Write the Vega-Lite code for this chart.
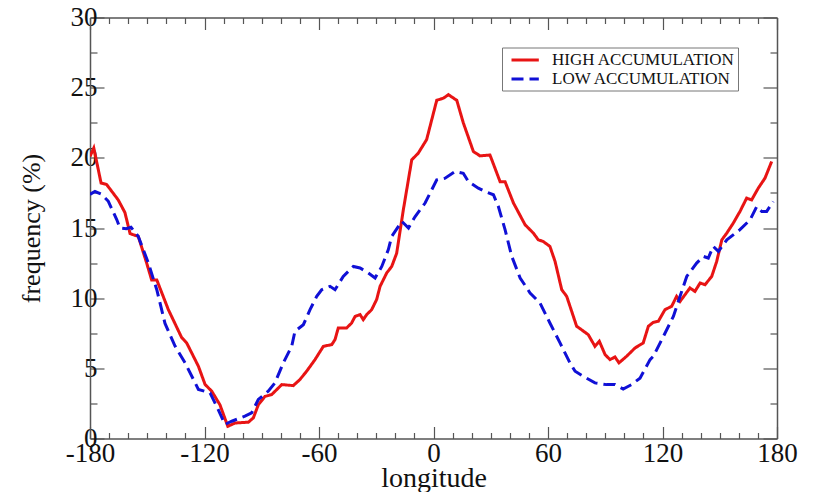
{
  "$schema": "https://vega.github.io/schema/vega-lite/v6.json",
  "width": 687,
  "height": 421,
  "autosize": {"type": "none"},
  "padding": {"left": 90, "top": 17.5, "right": 39, "bottom": 53.5},
  "background": "white",
  "datasets": {
    "curves": [
      {"series": "HIGH ACCUMULATION", "longitude": -180.0, "frequency": 20.1},
      {"series": "HIGH ACCUMULATION", "longitude": -178.0, "frequency": 20.7},
      {"series": "HIGH ACCUMULATION", "longitude": -174.2, "frequency": 18.2},
      {"series": "HIGH ACCUMULATION", "longitude": -171.3, "frequency": 18.1},
      {"series": "HIGH ACCUMULATION", "longitude": -165.2, "frequency": 17.0},
      {"series": "HIGH ACCUMULATION", "longitude": -161.7, "frequency": 16.1},
      {"series": "HIGH ACCUMULATION", "longitude": -159.0, "frequency": 14.6},
      {"series": "HIGH ACCUMULATION", "longitude": -154.7, "frequency": 14.4},
      {"series": "HIGH ACCUMULATION", "longitude": -150.3, "frequency": 12.5},
      {"series": "HIGH ACCUMULATION", "longitude": -147.7, "frequency": 11.3},
      {"series": "HIGH ACCUMULATION", "longitude": -145.0, "frequency": 11.3},
      {"series": "HIGH ACCUMULATION", "longitude": -139.0, "frequency": 9.2},
      {"series": "HIGH ACCUMULATION", "longitude": -132.0, "frequency": 7.2},
      {"series": "HIGH ACCUMULATION", "longitude": -129.3, "frequency": 6.8},
      {"series": "HIGH ACCUMULATION", "longitude": -123.2, "frequency": 5.15},
      {"series": "HIGH ACCUMULATION", "longitude": -119.7, "frequency": 3.85},
      {"series": "HIGH ACCUMULATION", "longitude": -116.2, "frequency": 3.37},
      {"series": "HIGH ACCUMULATION", "longitude": -111.9, "frequency": 2.4},
      {"series": "HIGH ACCUMULATION", "longitude": -107.8, "frequency": 0.87},
      {"series": "HIGH ACCUMULATION", "longitude": -104.0, "frequency": 1.1},
      {"series": "HIGH ACCUMULATION", "longitude": -102.3, "frequency": 1.12},
      {"series": "HIGH ACCUMULATION", "longitude": -97.0, "frequency": 1.16},
      {"series": "HIGH ACCUMULATION", "longitude": -94.4, "frequency": 1.47},
      {"series": "HIGH ACCUMULATION", "longitude": -91.8, "frequency": 2.4},
      {"series": "HIGH ACCUMULATION", "longitude": -88.3, "frequency": 3.0},
      {"series": "HIGH ACCUMULATION", "longitude": -84.8, "frequency": 3.13},
      {"series": "HIGH ACCUMULATION", "longitude": -79.5, "frequency": 3.84},
      {"series": "HIGH ACCUMULATION", "longitude": -73.5, "frequency": 3.77},
      {"series": "HIGH ACCUMULATION", "longitude": -70.0, "frequency": 4.2},
      {"series": "HIGH ACCUMULATION", "longitude": -66.5, "frequency": 4.79},
      {"series": "HIGH ACCUMULATION", "longitude": -62.1, "frequency": 5.62},
      {"series": "HIGH ACCUMULATION", "longitude": -57.7, "frequency": 6.57},
      {"series": "HIGH ACCUMULATION", "longitude": -53.3, "frequency": 6.69},
      {"series": "HIGH ACCUMULATION", "longitude": -51.6, "frequency": 7.05},
      {"series": "HIGH ACCUMULATION", "longitude": -49.9, "frequency": 7.88},
      {"series": "HIGH ACCUMULATION", "longitude": -45.5, "frequency": 7.88},
      {"series": "HIGH ACCUMULATION", "longitude": -42.9, "frequency": 8.23},
      {"series": "HIGH ACCUMULATION", "longitude": -41.1, "frequency": 8.7},
      {"series": "HIGH ACCUMULATION", "longitude": -38.5, "frequency": 8.83},
      {"series": "HIGH ACCUMULATION", "longitude": -36.8, "frequency": 8.47},
      {"series": "HIGH ACCUMULATION", "longitude": -35.0, "frequency": 8.83},
      {"series": "HIGH ACCUMULATION", "longitude": -32.4, "frequency": 9.18},
      {"series": "HIGH ACCUMULATION", "longitude": -29.8, "frequency": 9.9},
      {"series": "HIGH ACCUMULATION", "longitude": -28.0, "frequency": 10.84},
      {"series": "HIGH ACCUMULATION", "longitude": -24.5, "frequency": 11.8},
      {"series": "HIGH ACCUMULATION", "longitude": -21.9, "frequency": 12.26},
      {"series": "HIGH ACCUMULATION", "longitude": -19.3, "frequency": 13.2},
      {"series": "HIGH ACCUMULATION", "longitude": -15.8, "frequency": 16.3},
      {"series": "HIGH ACCUMULATION", "longitude": -11.4, "frequency": 19.86},
      {"series": "HIGH ACCUMULATION", "longitude": -8.0, "frequency": 20.33},
      {"series": "HIGH ACCUMULATION", "longitude": -3.6, "frequency": 21.3},
      {"series": "HIGH ACCUMULATION", "longitude": 1.7, "frequency": 24.1},
      {"series": "HIGH ACCUMULATION", "longitude": 5.2, "frequency": 24.25},
      {"series": "HIGH ACCUMULATION", "longitude": 7.8, "frequency": 24.5},
      {"series": "HIGH ACCUMULATION", "longitude": 12.2, "frequency": 24.1},
      {"series": "HIGH ACCUMULATION", "longitude": 15.6, "frequency": 22.5},
      {"series": "HIGH ACCUMULATION", "longitude": 20.9, "frequency": 20.45},
      {"series": "HIGH ACCUMULATION", "longitude": 24.4, "frequency": 20.14},
      {"series": "HIGH ACCUMULATION", "longitude": 29.6, "frequency": 20.2},
      {"series": "HIGH ACCUMULATION", "longitude": 34.9, "frequency": 18.3},
      {"series": "HIGH ACCUMULATION", "longitude": 37.5, "frequency": 18.3},
      {"series": "HIGH ACCUMULATION", "longitude": 41.9, "frequency": 16.78},
      {"series": "HIGH ACCUMULATION", "longitude": 48.0, "frequency": 15.23},
      {"series": "HIGH ACCUMULATION", "longitude": 52.3, "frequency": 14.64},
      {"series": "HIGH ACCUMULATION", "longitude": 54.9, "frequency": 14.16},
      {"series": "HIGH ACCUMULATION", "longitude": 57.5, "frequency": 14.04},
      {"series": "HIGH ACCUMULATION", "longitude": 61.0, "frequency": 13.69},
      {"series": "HIGH ACCUMULATION", "longitude": 63.7, "frequency": 12.62},
      {"series": "HIGH ACCUMULATION", "longitude": 67.2, "frequency": 10.6},
      {"series": "HIGH ACCUMULATION", "longitude": 69.8, "frequency": 10.13},
      {"series": "HIGH ACCUMULATION", "longitude": 75.0, "frequency": 8.0},
      {"series": "HIGH ACCUMULATION", "longitude": 81.1, "frequency": 7.4},
      {"series": "HIGH ACCUMULATION", "longitude": 84.6, "frequency": 6.57},
      {"series": "HIGH ACCUMULATION", "longitude": 86.9, "frequency": 6.93},
      {"series": "HIGH ACCUMULATION", "longitude": 89.9, "frequency": 5.98},
      {"series": "HIGH ACCUMULATION", "longitude": 92.5, "frequency": 5.62},
      {"series": "HIGH ACCUMULATION", "longitude": 95.1, "frequency": 5.81},
      {"series": "HIGH ACCUMULATION", "longitude": 97.2, "frequency": 5.39},
      {"series": "HIGH ACCUMULATION", "longitude": 101.2, "frequency": 5.86},
      {"series": "HIGH ACCUMULATION", "longitude": 105.6, "frequency": 6.45},
      {"series": "HIGH ACCUMULATION", "longitude": 109.9, "frequency": 6.81},
      {"series": "HIGH ACCUMULATION", "longitude": 112.6, "frequency": 8.0},
      {"series": "HIGH ACCUMULATION", "longitude": 115.2, "frequency": 8.28},
      {"series": "HIGH ACCUMULATION", "longitude": 117.8, "frequency": 8.35},
      {"series": "HIGH ACCUMULATION", "longitude": 121.3, "frequency": 9.18},
      {"series": "HIGH ACCUMULATION", "longitude": 124.8, "frequency": 9.42},
      {"series": "HIGH ACCUMULATION", "longitude": 127.4, "frequency": 10.13},
      {"series": "HIGH ACCUMULATION", "longitude": 129.2, "frequency": 9.77},
      {"series": "HIGH ACCUMULATION", "longitude": 134.4, "frequency": 10.73},
      {"series": "HIGH ACCUMULATION", "longitude": 137.0, "frequency": 10.48},
      {"series": "HIGH ACCUMULATION", "longitude": 139.7, "frequency": 11.08},
      {"series": "HIGH ACCUMULATION", "longitude": 142.3, "frequency": 10.96},
      {"series": "HIGH ACCUMULATION", "longitude": 145.8, "frequency": 11.55},
      {"series": "HIGH ACCUMULATION", "longitude": 148.4, "frequency": 12.62},
      {"series": "HIGH ACCUMULATION", "longitude": 151.1, "frequency": 14.16},
      {"series": "HIGH ACCUMULATION", "longitude": 153.7, "frequency": 14.64},
      {"series": "HIGH ACCUMULATION", "longitude": 157.1, "frequency": 15.35},
      {"series": "HIGH ACCUMULATION", "longitude": 160.6, "frequency": 16.18},
      {"series": "HIGH ACCUMULATION", "longitude": 164.1, "frequency": 17.13},
      {"series": "HIGH ACCUMULATION", "longitude": 166.7, "frequency": 17.0},
      {"series": "HIGH ACCUMULATION", "longitude": 170.2, "frequency": 17.84},
      {"series": "HIGH ACCUMULATION", "longitude": 173.7, "frequency": 18.55},
      {"series": "HIGH ACCUMULATION", "longitude": 177.2, "frequency": 19.74},
      {"series": "LOW ACCUMULATION", "longitude": -180.0, "frequency": 17.4},
      {"series": "LOW ACCUMULATION", "longitude": -177.4, "frequency": 17.6},
      {"series": "LOW ACCUMULATION", "longitude": -173.9, "frequency": 17.4},
      {"series": "LOW ACCUMULATION", "longitude": -170.4, "frequency": 16.9},
      {"series": "LOW ACCUMULATION", "longitude": -166.0, "frequency": 15.6},
      {"series": "LOW ACCUMULATION", "longitude": -164.3, "frequency": 15.0},
      {"series": "LOW ACCUMULATION", "longitude": -161.0, "frequency": 14.95},
      {"series": "LOW ACCUMULATION", "longitude": -158.5, "frequency": 15.05},
      {"series": "LOW ACCUMULATION", "longitude": -154.7, "frequency": 14.4},
      {"series": "LOW ACCUMULATION", "longitude": -149.4, "frequency": 12.5},
      {"series": "LOW ACCUMULATION", "longitude": -145.0, "frequency": 10.6},
      {"series": "LOW ACCUMULATION", "longitude": -140.7, "frequency": 8.2},
      {"series": "LOW ACCUMULATION", "longitude": -135.5, "frequency": 6.6},
      {"series": "LOW ACCUMULATION", "longitude": -130.2, "frequency": 5.4},
      {"series": "LOW ACCUMULATION", "longitude": -123.2, "frequency": 3.5},
      {"series": "LOW ACCUMULATION", "longitude": -117.1, "frequency": 3.25},
      {"series": "LOW ACCUMULATION", "longitude": -112.8, "frequency": 2.06},
      {"series": "LOW ACCUMULATION", "longitude": -109.3, "frequency": 1.0},
      {"series": "LOW ACCUMULATION", "longitude": -105.7, "frequency": 1.23},
      {"series": "LOW ACCUMULATION", "longitude": -98.8, "frequency": 1.59},
      {"series": "LOW ACCUMULATION", "longitude": -95.3, "frequency": 1.83},
      {"series": "LOW ACCUMULATION", "longitude": -91.8, "frequency": 2.78},
      {"series": "LOW ACCUMULATION", "longitude": -86.6, "frequency": 3.37},
      {"series": "LOW ACCUMULATION", "longitude": -83.1, "frequency": 3.96},
      {"series": "LOW ACCUMULATION", "longitude": -78.7, "frequency": 5.39},
      {"series": "LOW ACCUMULATION", "longitude": -74.3, "frequency": 6.57},
      {"series": "LOW ACCUMULATION", "longitude": -72.6, "frequency": 7.64},
      {"series": "LOW ACCUMULATION", "longitude": -68.2, "frequency": 8.11},
      {"series": "LOW ACCUMULATION", "longitude": -64.7, "frequency": 9.18},
      {"series": "LOW ACCUMULATION", "longitude": -61.2, "frequency": 10.13},
      {"series": "LOW ACCUMULATION", "longitude": -58.6, "frequency": 10.6},
      {"series": "LOW ACCUMULATION", "longitude": -54.2, "frequency": 10.84},
      {"series": "LOW ACCUMULATION", "longitude": -51.6, "frequency": 10.6},
      {"series": "LOW ACCUMULATION", "longitude": -47.3, "frequency": 11.55},
      {"series": "LOW ACCUMULATION", "longitude": -42.0, "frequency": 12.26},
      {"series": "LOW ACCUMULATION", "longitude": -38.5, "frequency": 12.15},
      {"series": "LOW ACCUMULATION", "longitude": -34.2, "frequency": 11.8},
      {"series": "LOW ACCUMULATION", "longitude": -30.6, "frequency": 11.44},
      {"series": "LOW ACCUMULATION", "longitude": -27.1, "frequency": 12.26},
      {"series": "LOW ACCUMULATION", "longitude": -23.7, "frequency": 13.45},
      {"series": "LOW ACCUMULATION", "longitude": -21.9, "frequency": 14.4},
      {"series": "LOW ACCUMULATION", "longitude": -16.6, "frequency": 15.47},
      {"series": "LOW ACCUMULATION", "longitude": -13.1, "frequency": 15.0},
      {"series": "LOW ACCUMULATION", "longitude": -9.7, "frequency": 15.8},
      {"series": "LOW ACCUMULATION", "longitude": -4.4, "frequency": 16.78},
      {"series": "LOW ACCUMULATION", "longitude": 1.7, "frequency": 18.43},
      {"series": "LOW ACCUMULATION", "longitude": 6.1, "frequency": 18.55},
      {"series": "LOW ACCUMULATION", "longitude": 11.3, "frequency": 19.03},
      {"series": "LOW ACCUMULATION", "longitude": 15.6, "frequency": 18.9},
      {"series": "LOW ACCUMULATION", "longitude": 18.3, "frequency": 18.3},
      {"series": "LOW ACCUMULATION", "longitude": 23.5, "frequency": 17.84},
      {"series": "LOW ACCUMULATION", "longitude": 27.0, "frequency": 17.6},
      {"series": "LOW ACCUMULATION", "longitude": 31.4, "frequency": 17.37},
      {"series": "LOW ACCUMULATION", "longitude": 34.0, "frequency": 16.53},
      {"series": "LOW ACCUMULATION", "longitude": 37.5, "frequency": 14.88},
      {"series": "LOW ACCUMULATION", "longitude": 41.0, "frequency": 12.98},
      {"series": "LOW ACCUMULATION", "longitude": 45.4, "frequency": 11.44},
      {"series": "LOW ACCUMULATION", "longitude": 50.6, "frequency": 10.37},
      {"series": "LOW ACCUMULATION", "longitude": 55.8, "frequency": 9.66},
      {"series": "LOW ACCUMULATION", "longitude": 61.0, "frequency": 8.23},
      {"series": "LOW ACCUMULATION", "longitude": 66.3, "frequency": 6.81},
      {"series": "LOW ACCUMULATION", "longitude": 71.5, "frequency": 5.39},
      {"series": "LOW ACCUMULATION", "longitude": 74.2, "frequency": 4.79},
      {"series": "LOW ACCUMULATION", "longitude": 78.5, "frequency": 4.43},
      {"series": "LOW ACCUMULATION", "longitude": 84.6, "frequency": 3.96},
      {"series": "LOW ACCUMULATION", "longitude": 90.7, "frequency": 3.84},
      {"series": "LOW ACCUMULATION", "longitude": 95.1, "frequency": 3.84},
      {"series": "LOW ACCUMULATION", "longitude": 99.4, "frequency": 3.53},
      {"series": "LOW ACCUMULATION", "longitude": 103.8, "frequency": 3.84},
      {"series": "LOW ACCUMULATION", "longitude": 108.2, "frequency": 4.3},
      {"series": "LOW ACCUMULATION", "longitude": 113.5, "frequency": 5.62},
      {"series": "LOW ACCUMULATION", "longitude": 115.2, "frequency": 5.86},
      {"series": "LOW ACCUMULATION", "longitude": 120.5, "frequency": 7.28},
      {"series": "LOW ACCUMULATION", "longitude": 125.7, "frequency": 8.7},
      {"series": "LOW ACCUMULATION", "longitude": 129.2, "frequency": 10.13},
      {"series": "LOW ACCUMULATION", "longitude": 132.7, "frequency": 11.55},
      {"series": "LOW ACCUMULATION", "longitude": 137.9, "frequency": 12.5},
      {"series": "LOW ACCUMULATION", "longitude": 141.4, "frequency": 12.98},
      {"series": "LOW ACCUMULATION", "longitude": 144.0, "frequency": 12.86},
      {"series": "LOW ACCUMULATION", "longitude": 146.6, "frequency": 13.69},
      {"series": "LOW ACCUMULATION", "longitude": 149.3, "frequency": 13.33},
      {"series": "LOW ACCUMULATION", "longitude": 153.7, "frequency": 14.16},
      {"series": "LOW ACCUMULATION", "longitude": 160.6, "frequency": 14.88},
      {"series": "LOW ACCUMULATION", "longitude": 165.9, "frequency": 15.59},
      {"series": "LOW ACCUMULATION", "longitude": 169.4, "frequency": 16.53},
      {"series": "LOW ACCUMULATION", "longitude": 172.0, "frequency": 16.18},
      {"series": "LOW ACCUMULATION", "longitude": 174.6, "frequency": 16.18},
      {"series": "LOW ACCUMULATION", "longitude": 178.0, "frequency": 16.89}
    ]
  },
  "data": {"name": "curves"},
  "config": {
    "view": {"stroke": null},
    "axis": {
      "grid": false,
      "domainColor": "#555",
      "domainWidth": 1.5,
      "tickColor": "#555",
      "tickWidth": 1.2,
      "labelFont": "Liberation Serif",
      "labelColor": "#111",
      "titleFont": "Liberation Serif",
      "titleColor": "#111",
      "titleFontWeight": "normal"
    }
  },
  "layer": [
    {
      "mark": {"type": "line", "strokeWidth": 3, "clip": true},
      "encoding": {
        "x": {
          "field": "longitude", "type": "quantitative",
          "scale": {"domain": [-180, 180], "nice": false, "zero": false},
          "axis": {
            "orient": "bottom", "values": [-180, -120, -60, 0, 60, 120, 180],
            "labelExpr": "'' + datum.value",
            "tickSize": -12, "labelPadding": 14, "labelFontSize": 27, "labelFlush": false,
            "title": "longitude", "titleFontSize": 28, "titleBaseline": "alphabetic", "titleY": 48
          }
        },
        "y": {
          "field": "frequency", "type": "quantitative",
          "scale": {"domain": [0, 30], "nice": false},
          "axis": {
            "orient": "left", "values": [0, 5, 10, 15, 20, 25, 30],
            "labelExpr": "'' + datum.value",
            "tickSize": -14, "labelPadding": 7, "labelFontSize": 27,
            "title": "frequency (%)", "titleFontSize": 26, "titleBaseline": "alphabetic",
            "titleAngle": -90, "titleX": -51, "titleY": 210.5, "titleAlign": "center"
          }
        },
        "color": {
          "field": "series", "type": "nominal",
          "scale": {"domain": ["HIGH ACCUMULATION", "LOW ACCUMULATION"], "range": ["#e81414", "#1010d6"]},
          "legend": {
            "orient": "none", "legendX": 412, "legendY": 30, "title": null,
            "symbolType": "M-0.375,0L3.04,0", "symbolSize": 256, "symbolStrokeWidth": 3,
            "labelFont": "Liberation Serif", "labelFontSize": 17, "labelColor": "#111",
            "labelLimit": 400, "labelOffset": 28, "padding": 3, "strokeColor": "#777",
            "fillColor": "white", "rowPadding": 1
          }
        },
        "strokeDash": {
          "field": "series", "type": "nominal",
          "scale": {"domain": ["HIGH ACCUMULATION", "LOW ACCUMULATION"], "range": [[1, 0], [12, 6]]},
          "legend": null
        }
      }
    },
    {
      "mark": {"type": "line", "opacity": 0},
      "encoding": {
        "x": {
          "field": "longitude", "type": "quantitative",
          "axis": {
            "orient": "bottom", "domain": false, "labels": false, "title": null, "tickSize": -6,
            "values": [-170, -160, -150, -140, -130, -110, -100, -90, -80, -70, -50, -40, -30, -20, -10, 10, 20, 30, 40, 50, 70, 80, 90, 100, 110, 130, 140, 150, 160, 170]
          }
        },
        "y": {
          "field": "frequency", "type": "quantitative",
          "axis": {
            "orient": "left", "domain": false, "labels": false, "title": null, "tickSize": -7,
            "values": [2.5, 7.5, 12.5, 17.5, 22.5, 27.5]
          }
        }
      }
    },
    {
      "mark": {"type": "line", "opacity": 0},
      "encoding": {
        "x": {
          "field": "longitude", "type": "quantitative",
          "axis": {
            "orient": "top", "labels": false, "title": null, "tickSize": -12,
            "values": [-180, -120, -60, 0, 60, 120, 180]
          }
        },
        "y": {
          "field": "frequency", "type": "quantitative",
          "axis": {
            "orient": "right", "labels": false, "title": null, "tickSize": -14,
            "values": [0, 5, 10, 15, 20, 25, 30]
          }
        }
      }
    },
    {
      "mark": {"type": "line", "opacity": 0},
      "encoding": {
        "x": {
          "field": "longitude", "type": "quantitative",
          "axis": {
            "orient": "top", "domain": false, "labels": false, "title": null, "tickSize": -6,
            "values": [-170, -160, -150, -140, -130, -110, -100, -90, -80, -70, -50, -40, -30, -20, -10, 10, 20, 30, 40, 50, 70, 80, 90, 100, 110, 130, 140, 150, 160, 170]
          }
        },
        "y": {
          "field": "frequency", "type": "quantitative",
          "axis": {
            "orient": "right", "domain": false, "labels": false, "title": null, "tickSize": -7,
            "values": [2.5, 7.5, 12.5, 17.5, 22.5, 27.5]
          }
        }
      }
    }
  ],
  "resolve": {"axis": {"x": "independent", "y": "independent"}}
}
